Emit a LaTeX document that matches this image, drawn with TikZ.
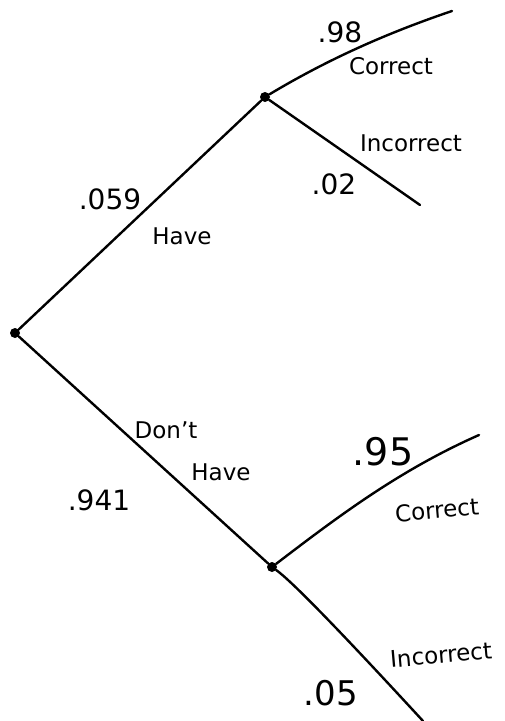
\documentclass[tikz,border=0pt]{standalone}
\usepackage{fontspec}
\setmainfont{DejaVu Sans}
\begin{document}
\begin{tikzpicture}[x=1pt,y=-1pt,
  dotnode/.style={circle,fill=black,inner sep=0pt,minimum size=10pt},
  branch/.style={line width=2.4pt,line cap=round,line join=round},
  lbl/.style={inner sep=0pt,font=\fontsize{23}{26}\selectfont},
  prob/.style={inner sep=0pt,font=\fontsize{28}{32}\selectfont}]
\useasboundingbox (0,0) rectangle (504,721);
% nodes
\node[dotnode] (root) at (15,333) {};
\node[dotnode] (up) at (265,97) {};
\node[dotnode] (low) at (272,567) {};
\coordinate (uc) at (452,11);
\coordinate (ui) at (420,205);
\coordinate (lc) at (479,435);
\coordinate (li) at (423,721);
% branches
\draw[branch] (root) -- (up);
\draw[branch] (root) -- (low);
\draw[branch] (up) .. controls (330,58) and (390,32) .. (uc);
\draw[branch] (up) -- (410,198) .. controls (415,202) .. (ui);
\draw[branch] (low) .. controls (340,515) and (400,470) .. (lc);
\draw[branch] (low) .. controls (290,580) and (330,620) .. (li);
% labels
\node[prob] at (340,32) {.98};
\node[lbl] at (391,66) {Correct};
\node[lbl] at (411,143) {Incorrect};
\node[prob] at (334,184) {.02};
\node[prob] at (110,199) {.059};
\node[lbl] at (182,236) {Have};
\node[lbl] at (166,430) {Don't};
\node[lbl] at (221,472) {Have};
\node[prob] at (99,500) {.941};
\node[prob,font=\fontsize{38}{42}\selectfont] at (383,452) {.95};
\node[lbl,rotate=5] at (437,510) {Correct};
\node[lbl,rotate=5] at (441,655) {Incorrect};
\node[prob,font=\fontsize{34}{38}\selectfont] at (331,693) {.05};
\end{tikzpicture}
\end{document}
